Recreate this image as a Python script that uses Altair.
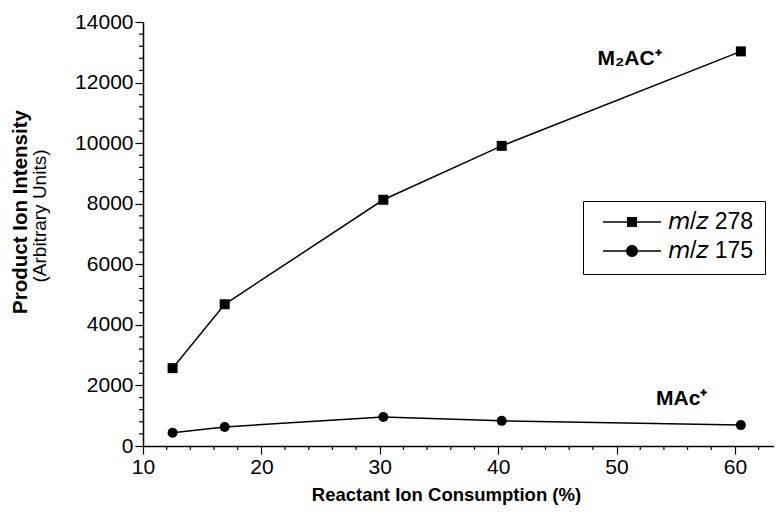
import altair as alt
import pandas as pd

# ---- data ----
consumption = [12.5, 16.9, 30.3, 40.3, 60.5]
mz278 = [2570, 4680, 8130, 9910, 13030]
mz175 = [440, 630, 960, 830, 690]
series_names = ["m/z 278", "m/z 175"]
legend_labels = ["\U0001D62E/\U0001D63B 278", "\U0001D62E/\U0001D63B 175"]

x_major = [10, 20, 30, 40, 50, 60]
x_minor = [12, 14, 16, 18, 22, 24, 26, 28, 32, 34, 36, 38, 42, 44, 46, 48, 52, 54, 56, 58, 62]
y_major = [0, 2000, 4000, 6000, 8000, 10000, 12000, 14000]
y_minor = [v for v in range(400, 14000, 400) if v % 2000 != 0]

ann_labels = ["M\u2082AC\u207a", "MAc\u207a"]
ann_x = [51.1, 55.5]
ann_y = [12790, 1550]

X_DOMAIN = [10, 63.3]
Y_DOMAIN = [0, 14000]
W, H = 631, 424
FONT = "Liberation Sans"
X_TITLE = "Reactant Ion Consumption (%)"

rows = []
for name, vals in zip(legend_labels, [mz278, mz175]):
    for c, v in zip(consumption, vals):
        rows.append({"series": name, "x": c, "y": v})
df = pd.DataFrame(rows)

xs = alt.Scale(domain=X_DOMAIN, nice=False, zero=False)
ys = alt.Scale(domain=Y_DOMAIN, nice=False)
x_axis = alt.Axis(values=x_major, title=X_TITLE, titlePadding=8, labelFlush=False, titleX=303)
y_axis = alt.Axis(values=y_major, title=None, format="d", labelFlush=False)


def X(field):
    return alt.X(field, scale=xs, axis=x_axis)


def Y(field):
    return alt.Y(field, scale=ys, axis=y_axis)


lines = alt.Chart(df).mark_line(color="black", strokeWidth=1.5).encode(
    x=X("x:Q"), y=Y("y:Q"), detail="series:N",
)

points = alt.Chart(df).mark_point(filled=True, color="black", opacity=1, size=100).encode(
    x=X("x:Q"),
    y=Y("y:Q"),
    shape=alt.Shape("series:N", scale=alt.Scale(domain=legend_labels, range=["square", "circle"]), legend=None),
)

# legend glyphs: a thin filled bar (the line) with the marker in the middle
T = 0.022
sq_path = (
    f"M-0.735,-{T}H-0.029V{T}H-0.735Z"
    f"M0.265,-{T}H0.97V{T}H0.265Z"
    "M-0.029,-0.147H0.265V0.147H-0.029Z"
)
ci_path = (
    f"M-0.735,-{T}H-0.058V{T}H-0.735Z"
    f"M0.294,-{T}H0.97V{T}H0.294Z"
    "M0.294,0A0.176,0.176 0 1,1 -0.058,0A0.176,0.176 0 1,1 0.294,0Z"
)

legend_layer = alt.Chart(df).mark_point(
    filled=True, color="black", strokeWidth=0, opacity=1
).encode(
    x=X("x:Q"),
    y=Y("y:Q"),
    shape=alt.Shape(
        "series:N",
        scale=alt.Scale(domain=legend_labels, range=[sq_path, ci_path]),
        legend=alt.Legend(
            title=None,
            orient="none",
            legendX=440,
            legendY=179,
            symbolSize=68 * 68,
            symbolFillColor="black",
            symbolStrokeWidth=0,
            symbolOpacity=1,
            clipHeight=20,
            rowPadding=6,
            padding=11,
            labelOffset=6,
            labelFont=FONT,
            labelFontSize=23,
            labelColor="black",
            strokeColor="black",
            fillColor="white",
            labelExpr="datum.label + '\u00a0\u00a0\u00a0'",
        ),
    ),
).transform_filter("false")

ydf = pd.DataFrame({"y": y_minor})
y_minor_ticks = alt.Chart(ydf).mark_rule(color="black", strokeWidth=1.2).encode(
    y=Y("y:Q"),
    x=alt.value(-4),
    x2=alt.value(0),
)
xdf = pd.DataFrame({"x": x_minor})
x_minor_ticks = alt.Chart(xdf).mark_rule(color="black", strokeWidth=1.2).encode(
    x=X("x:Q"),
    y=alt.value(H),
    y2=alt.value(H + 4),
)

ann = alt.Chart(pd.DataFrame({"t": ann_labels, "x": ann_x, "y": ann_y})).mark_text(
    font=FONT, fontSize=21, fontWeight="bold", color="black"
).encode(x=X("x:Q"), y=Y("y:Q"), text="t:N")

ytitle1 = alt.Chart(pd.DataFrame({"t": ["Product Ion Intensity"]})).mark_text(
    font=FONT, fontSize=20.5, fontWeight="bold", angle=270, color="black"
).encode(text="t:N", x=alt.value(-122), y=alt.value(190))
ytitle2 = alt.Chart(pd.DataFrame({"t": ["(Arbitrary Units)"]})).mark_text(
    font=FONT, fontSize=19, angle=270, color="black"
).encode(text="t:N", x=alt.value(-103), y=alt.value(194))

chart = alt.layer(
    lines, points, legend_layer, y_minor_ticks, x_minor_ticks, ann, ytitle1, ytitle2
).resolve_scale(shape="independent").properties(
    width=W,
    height=H,
    autosize=alt.AutoSizeParams(type="none"),
    padding={"left": 135, "top": 14, "right": 0, "bottom": 60},
).configure_view(stroke=None).configure_axis(
    grid=False,
    domainColor="black",
    domainWidth=1.5,
    tickColor="black",
    tickWidth=1.2,
    tickSize=8,
    labelColor="black",
    labelFont=FONT,
    labelFontSize=21,
    titleFont=FONT,
    titleFontSize=18.5,
    titleFontWeight="bold",
    titleColor="black",
)

chart.save("out.html", embed_options={"renderer": "svg", "actions": False})
